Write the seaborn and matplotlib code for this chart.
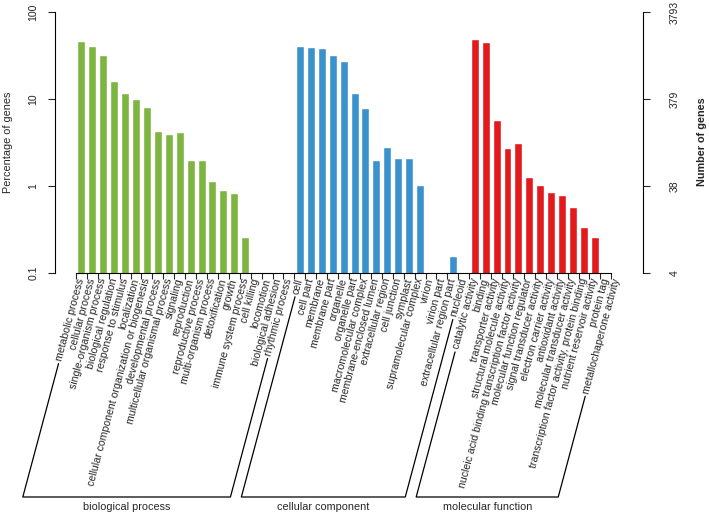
import numpy as np
import pandas as pd
import seaborn as sns
from matplotlib import pyplot as plt
from matplotlib.lines import Line2D

# GO terms (biological process / cellular component / molecular function)
bp_terms = ['metabolic process', 'cellular process', 'single-organism process',
            'biological regulation', 'response to stimulus', 'localization',
            'cellular component organization or biogenesis', 'developmental process',
            'multicellular organismal process', 'signaling', 'reproduction',
            'reproductive process', 'multi-organism process', 'detoxification', 'growth',
            'immune system process', 'cell killing', 'locomotion', 'biological adhesion',
            'rhythmic process']
bp_pct = [46, 41, 32, 16, 11.8, 9.9, 8.0, 4.25, 3.95, 4.2, 2.0, 2.0, 1.13, 0.89, 0.84,
          0.26, 0, 0, 0, 0]

cc_terms = ['cell', 'cell part', 'membrane', 'membrane part', 'organelle', 'organelle part',
            'macromolecular complex', 'membrane-enclosed lumen', 'extracellular region',
            'cell junction', 'symplast', 'supramolecular complex', 'virion', 'virion part',
            'extracellular region part', 'nucleoid']
cc_pct = [40.3, 40.0, 38.2, 31.8, 27.4, 11.8, 7.9, 1.97, 2.83, 2.08, 2.08, 1.02, 0, 0,
          0.157, 0]

mf_terms = ['catalytic activity', 'binding', 'transporter activity',
            'structural molecule activity',
            'nucleic acid binding transcription factor activity',
            'molecular function regulator', 'signal transducer activity',
            'electron carrier activity', 'antioxidant activity',
            'molecular transducer activity',
            'transcription factor activity, protein binding',
            'nutrient reservoir activity', 'protein tag', 'metallochaperone activity']
mf_pct = [48.6, 44.8, 5.7, 2.71, 3.12, 1.28, 1.02, 0.86, 0.79, 0.58, 0.34, 0.26, 0, 0]

groups = ['biological process', 'cellular component', 'molecular function']
colors = ['#7DB540', '#3A92CD', '#E31A1C']
total_genes = 3793
pct_ticks = [0.1, 1, 10, 100]

df = pd.concat([
    pd.DataFrame({'term': bp_terms, 'pct': bp_pct, 'ontology': groups[0]}),
    pd.DataFrame({'term': cc_terms, 'pct': cc_pct, 'ontology': groups[1]}),
    pd.DataFrame({'term': mf_terms, 'pct': mf_pct, 'ontology': groups[2]}),
], ignore_index=True)
terms = list(df.term)

sns.set_style('white')
plt.rcParams['font.family'] = ['Liberation Sans', 'DejaVu Sans']

W, H = 709, 514
fig, ax = plt.subplots(figsize=(W / 100, H / 100), dpi=100)
fig.subplots_adjust(left=55 / W, right=643 / W, bottom=1 - 273 / H, top=1 - 12 / H)

sns.barplot(data=df, x='term', y='pct', hue='ontology', order=terms,
            palette=dict(zip(groups, colors)), dodge=False, width=0.73,
            saturation=1, legend=False, ax=ax)

ax.set_yscale('log')
ax.set_ylim(0.1, 100)
ax.set_xlim(-2.41, 51.4)
ax.set_xlabel('')
ax.set_ylabel('')
ax.yaxis.set_minor_locator(plt.NullLocator())
ax.set_yticks(pct_ticks)
ax.set_yticklabels([f'{v:g}' for v in pct_ticks], rotation=90, va='center', fontsize=7.5)
ax.tick_params(axis='y', length=5, width=0.8, pad=7, colors='#222222', left=True)

ax.set_xticks(range(len(terms)))
ax.set_xticklabels(terms, rotation=75, ha='right', va='center',
                   rotation_mode='anchor', fontsize=7.6)
ax.tick_params(axis='x', which='major', length=0, pad=4)
ax.set_xticks(np.arange(len(terms)) - 0.5, minor=True)
ax.tick_params(axis='x', which='minor', length=4, width=0.8, bottom=True)

for s in ['top', 'right']:
    ax.spines[s].set_visible(False)
ax.spines['left'].set_linewidth(0.8)
ax.spines['bottom'].set_linewidth(0.8)
ax.spines['bottom'].set_bounds(-0.5, len(terms) - 1.5)
ax.spines['left'].set_color('black')
ax.spines['bottom'].set_color('black')

# right axis: number of genes
ax2 = ax.twinx()
ax2.set_yscale('log')
ax2.set_ylim(0.1, 100)
ax2.yaxis.set_minor_locator(plt.NullLocator())
ax2.set_yticks(pct_ticks)
ax2.set_yticklabels([str(round(total_genes * v / 100)) for v in pct_ticks],
                    rotation=90, va='center', fontsize=7.5)
ax2.tick_params(axis='y', length=5, width=0.8, pad=14, right=True)
for s in ['top', 'left', 'bottom']:
    ax2.spines[s].set_visible(False)
ax2.spines['right'].set_linewidth(0.8)
ax2.spines['right'].set_color('black')

fig.text(8 / W, 1 - 142 / H, 'Percentage of genes', rotation=90,
         ha='center', va='center', fontsize=7.8)
fig.text(702 / W, 1 - 142 / H, 'Number of genes', rotation=90,
         ha='center', va='center', fontsize=7.8, weight='bold')

# group brackets under the rotated labels
fig.canvas.draw()
renderer = fig.canvas.get_renderer()
labels = ax.get_xticklabels()
theta = np.deg2rad(75)
d = np.array([np.cos(theta), np.sin(theta)])
y_base = H - 497


def bracket_end(i):
    t = labels[i]
    anchor = t.get_transform().transform(t.get_position())
    w, h, _ = renderer.get_text_width_height_descent(t.get_text(), t.get_fontproperties(), ismath=False)
    top = anchor - (w + 3) * d
    bottom_x = top[0] - (top[1] - y_base) / np.tan(theta)
    return top, np.array([bottom_x, y_base])


to_fig = fig.transFigure.inverted()
start = 0
for g, n in zip(groups, [len(bp_terms), len(cc_terms), len(mf_terms)]):
    t0, b0 = bracket_end(start)
    t1, b1 = bracket_end(start + n - 1)
    pts = to_fig.transform(np.array([t0, b0, b1, t1]))
    fig.add_artist(Line2D(pts[:, 0], pts[:, 1], color='black', lw=0.9,
                          transform=fig.transFigure))
    fig.text((pts[1, 0] + pts[2, 0]) / 2, (H - 507) / H, g,
             ha='center', va='center', fontsize=7.8)
    start += n

fig.savefig('out.png', dpi=100)
